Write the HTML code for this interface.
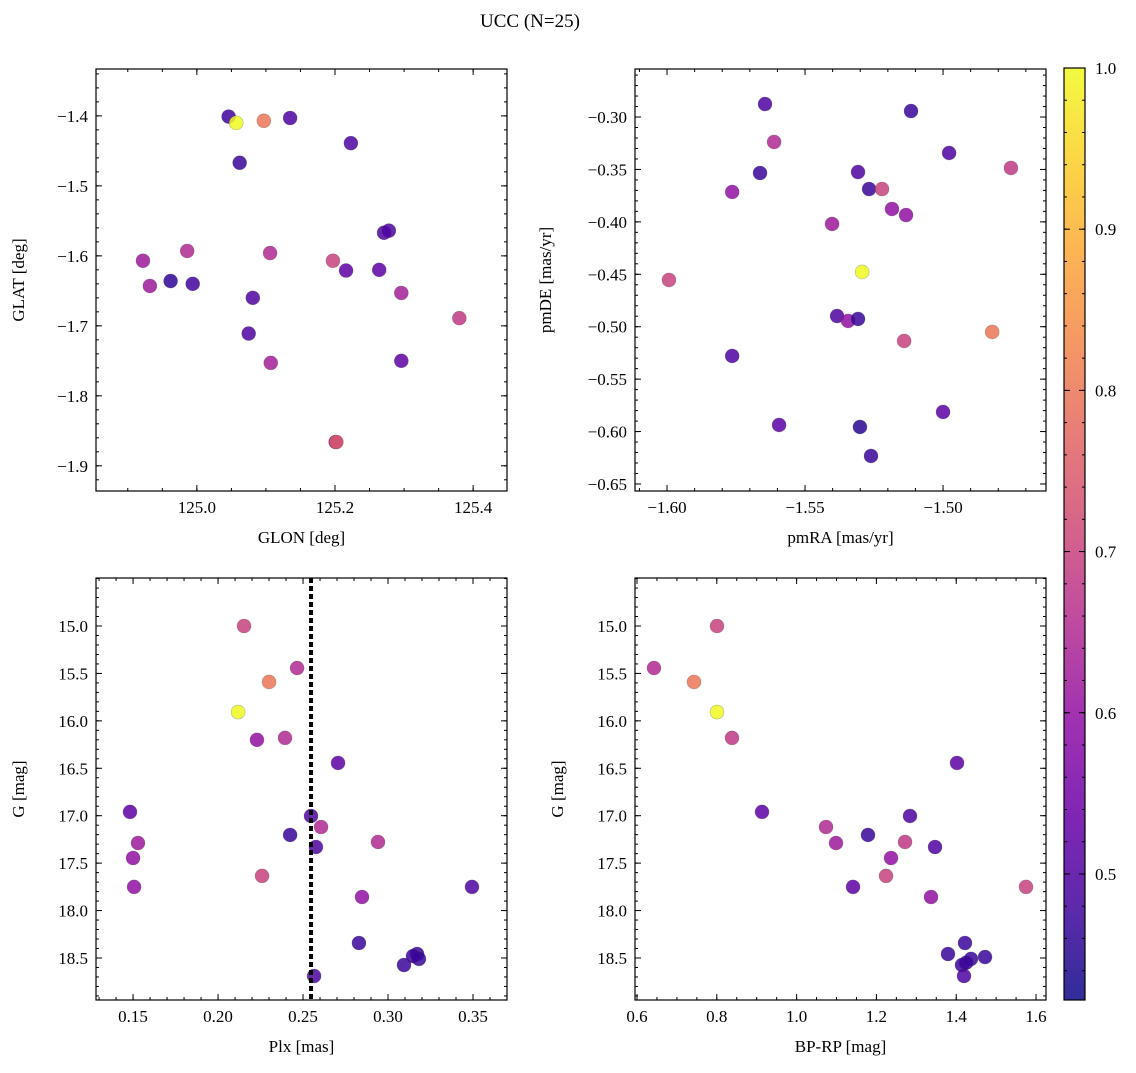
<!DOCTYPE html>
<html><head><meta charset="utf-8"><style>
body{margin:0;background:#fff;}
svg text{font-family:"Liberation Serif","DejaVu Serif",serif;fill:#000;}
</style></head><body>
<svg id="fig" width="1136" height="1068" viewBox="0 0 1136 1068" xmlns="http://www.w3.org/2000/svg">
<defs>
<linearGradient id="plasma" x1="0" y1="1" x2="0" y2="0">
<stop offset="0" stop-color="#0d0887"/><stop offset="0.1" stop-color="#41049d"/><stop offset="0.2" stop-color="#6a00a8"/><stop offset="0.3" stop-color="#8f0da4"/><stop offset="0.4" stop-color="#b12a90"/><stop offset="0.5" stop-color="#cc4778"/><stop offset="0.6" stop-color="#e16462"/><stop offset="0.7" stop-color="#f2844b"/><stop offset="0.8" stop-color="#fca636"/><stop offset="0.9" stop-color="#fcce25"/><stop offset="1" stop-color="#f0f921"/>
</linearGradient>
</defs>
<text x="530" y="27" text-anchor="middle" font-size="19">UCC (N=25)</text>
</svg>
<script>
// Panel 1 data
const glon = [125.046,125.057,125.097,125.135,125.062,125.223,125.271,125.278,124.922,124.932,124.962,124.986,124.994,125.106,125.197,125.216,125.264,125.296,125.380,125.081,125.075,125.107,125.296,125.201,125.202];
const glat = [-1.401,-1.410,-1.407,-1.403,-1.467,-1.439,-1.567,-1.564,-1.607,-1.643,-1.636,-1.593,-1.640,-1.596,-1.607,-1.621,-1.620,-1.653,-1.689,-1.660,-1.711,-1.753,-1.750,-1.866,-1.866];
const prob1 = [0.48,1.0,0.8,0.5,0.47,0.5,0.5,0.5,0.62,0.62,0.46,0.65,0.48,0.65,0.7,0.52,0.52,0.63,0.68,0.5,0.5,0.63,0.52,0.6,0.75];
// Panel 2 data
const pmra = [-1.5645,-1.5116,-1.4978,-1.4754,-1.5612,-1.5764,-1.5663,-1.5308,-1.5268,-1.5221,-1.5185,-1.5134,-1.5402,-1.5293,-1.5993,-1.5384,-1.5344,-1.5308,-1.5141,-1.4822,-1.5764,-1.5,-1.5594,-1.5301,-1.5261];
const pmde = [-0.2876,-0.2943,-0.3343,-0.3486,-0.3238,-0.3715,-0.3534,-0.3525,-0.3687,-0.3687,-0.3877,-0.3935,-0.4020,-0.4478,-0.4554,-0.4898,-0.4945,-0.4926,-0.5136,-0.5050,-0.5279,-0.5813,-0.5937,-0.5956,-0.6233];
const prob2 = [0.5,0.47,0.5,0.68,0.65,0.6,0.47,0.5,0.47,0.7,0.6,0.6,0.62,1.0,0.7,0.5,0.6,0.47,0.7,0.8,0.5,0.52,0.52,0.45,0.47];
// Panel 3 data
const plx = [0.2153,0.2465,0.2300,0.2118,0.2229,0.2394,0.2706,0.1482,0.1529,0.1500,0.1506,0.2424,0.2547,0.2606,0.2576,0.2941,0.2259,0.2847,0.3494,0.2829,0.3171,0.3094,0.3182,0.2565,0.3147];
const gmag3 = [15.0,15.443,15.59,15.907,16.2,16.18,16.444,16.96,17.288,17.446,17.751,17.203,17.003,17.119,17.33,17.277,17.635,17.857,17.751,18.342,18.458,18.574,18.51,18.69,18.48];
const prob3 = [0.7,0.65,0.8,1.0,0.6,0.65,0.52,0.52,0.62,0.6,0.6,0.47,0.5,0.65,0.5,0.65,0.7,0.6,0.5,0.47,0.47,0.47,0.47,0.5,0.47];
const plxLine = 0.2547;
// Panel 4 data
const bprp = [0.6426,0.8005,0.7429,0.8005,0.8381,1.402,0.9133,1.0737,1.0987,1.1789,1.2842,1.2717,1.3469,1.2366,1.2241,1.1414,1.3368,1.5749,1.422,1.3794,1.4371,1.4722,1.4145,1.4195,1.425];
const gmag4 = [15.443,15.0,15.59,15.907,16.18,16.444,16.96,17.119,17.288,17.203,17.003,17.277,17.33,17.446,17.635,17.751,17.857,17.751,18.342,18.458,18.51,18.49,18.574,18.69,18.55];
const prob4 = [0.65,0.7,0.8,1.0,0.68,0.52,0.52,0.65,0.62,0.47,0.5,0.68,0.5,0.6,0.7,0.52,0.6,0.7,0.47,0.47,0.47,0.47,0.47,0.5,0.47];
// Ticks
const ticks1x = [125.0,125.2,125.4], ticks1y = [-1.4,-1.5,-1.6,-1.7,-1.8,-1.9];
const ticks2x = [-1.60,-1.55,-1.50], ticks2y = [-0.30,-0.35,-0.40,-0.45,-0.50,-0.55,-0.60,-0.65];
const ticks3x = [0.15,0.20,0.25,0.30,0.35], ticksG = [15.0,15.5,16.0,16.5,17.0,17.5,18.0,18.5];
const ticks4x = [0.6,0.8,1.0,1.2,1.4,1.6];
const cbTicks = [0.5,0.6,0.7,0.8,0.9,1.0];

const NS="http://www.w3.org/2000/svg";
const svg=document.getElementById('fig');
function mk(tag,attrs,parent){const e=document.createElementNS(NS,tag);for(const k in attrs)e.setAttribute(k,attrs[k]);(parent||svg).appendChild(e);return e;}
const stops=['#0d0887','#41049d','#6a00a8','#8f0da4','#b12a90','#cc4778','#e16462','#f2844b','#fca636','#fcce25','#f0f921'];
function hex(h){return [1,3,5].map(i=>parseInt(h.substr(i,2),16));}
const CMIN=0.4218,CMAX=1.0;
function cmap(v){let t=(v-CMIN)/(CMAX-CMIN);t=Math.max(0,Math.min(1,t))*10;const i=Math.min(9,Math.floor(t));const f=t-i;const a=hex(stops[i]),b=hex(stops[i+1]);return 'rgb('+a.map((c,k)=>Math.round(c+(b[k]-c)*f)).join(',')+')';}
function fmt(v,d){return (v<0?'\u2212':'')+Math.abs(v).toFixed(d);}
const FS=17;

function panel(o){
  const g=mk('g',{});
  
  
  const X=v=>o.L+(v-o.x0)/(o.x1-o.x0)*(o.R-o.L);
  const Y=v=>o.T+(v-o.y0)/(o.y1-o.y0)*(o.B-o.T);
  for(let i=0;i<o.xs.length;i++){
    const c=mk('circle',{cx:X(o.xs[i]),cy:Y(o.ys[i]),r:7,fill:cmap(o.cs[i]),'fill-opacity':0.85,stroke:'rgba(60,60,60,0.35)','stroke-width':0.6},g);
    
    
  }
  if(o.vline!==undefined){
    const l=mk('line',{x1:X(o.vline),x2:X(o.vline),y1:o.T,y2:o.B,stroke:'#000','stroke-width':4,'stroke-dasharray':'5,3'},g);
    
    
  }
  const fr=mk('rect',{x:o.L,y:o.T,width:o.R-o.L,height:o.B-o.T,fill:'none',stroke:'#000','stroke-width':1.2},g);
  
  
  const lo=Math.min(o.x0,o.x1),hi=Math.max(o.x0,o.x1);
  for(let v=Math.ceil(lo/o.xm-1e-6)*o.xm;v<=hi+1e-9;v+=o.xm){const x=X(v);mk('line',{x1:x,x2:x,y1:o.B,y2:o.B-3,stroke:'#000'},g);mk('line',{x1:x,x2:x,y1:o.T,y2:o.T+3,stroke:'#000'},g);}
  o.xt.forEach(v=>{const x=X(v);mk('line',{x1:x,x2:x,y1:o.B,y2:o.B-6,stroke:'#000'},g);mk('line',{x1:x,x2:x,y1:o.T,y2:o.T+6,stroke:'#000'},g);
    const t=mk('text',{x:x,y:o.B+22,'text-anchor':'middle','font-size':FS},g);t.textContent=fmt(v,o.xd);
    });
  const ylo=Math.min(o.y0,o.y1),yhi=Math.max(o.y0,o.y1);
  for(let v=Math.ceil(ylo/o.ym-1e-6)*o.ym;v<=yhi+1e-9;v+=o.ym){const y=Y(v);mk('line',{x1:o.L,x2:o.L+3,y1:y,y2:y,stroke:'#000'},g);mk('line',{x1:o.R,x2:o.R-3,y1:y,y2:y,stroke:'#000'},g);}
  o.yt.forEach(v=>{const y=Y(v);mk('line',{x1:o.L,x2:o.L+6,y1:y,y2:y,stroke:'#000'},g);mk('line',{x1:o.R,x2:o.R-6,y1:y,y2:y,stroke:'#000'},g);
    const t=mk('text',{x:o.L-8,y:y+6,'text-anchor':'end','font-size':FS},g);t.textContent=fmt(v,o.yd);
    });
  const xl=mk('text',{x:(o.L+o.R)/2,y:o.B+52,'text-anchor':'middle','font-size':FS},g);xl.textContent=o.xlab;
  
  const yx=o.L-o.ylOff,yy=(o.T+o.B)/2;
  const yl=mk('text',{x:yx,y:yy,'text-anchor':'middle','font-size':FS,transform:'rotate(-90 '+yx+' '+yy+')'},g);yl.textContent=o.ylab;
  
}
panel({name:'glon-glat-panel',L:96,R:507,T:69,B:491,x0:124.854,x1:125.449,y0:-1.333,y1:-1.936,xs:glon,ys:glat,cs:prob1,xt:ticks1x,yt:ticks1y,xm:0.05,ym:0.02,xd:1,yd:1,xlab:'GLON [deg]',ylab:'GLAT [deg]',ylOff:72});
panel({name:'proper-motion-panel',L:635,R:1046,T:69,B:491,x0:-1.6116,x1:-1.4627,y0:-0.2542,y1:-0.6567,xs:pmra,ys:pmde,cs:prob2,xt:ticks2x,yt:ticks2y,xm:0.01,ym:0.01,xd:2,yd:2,xlab:'pmRA [mas/yr]',ylab:'pmDE [mas/yr]',ylOff:84});
panel({name:'plx-g-panel',L:96,R:507,T:578,B:1000,x0:0.1282,x1:0.370,y0:14.494,y1:18.943,xs:plx,ys:gmag3,cs:prob3,xt:ticks3x,yt:ticksG,xm:0.01,ym:0.1,xd:2,yd:1,xlab:'Plx [mas]',ylab:'G [mag]',ylOff:72,vline:plxLine});
panel({name:'cmd-panel',L:635,R:1046,T:578,B:1000,x0:0.595,x1:1.625,y0:14.494,y1:18.943,xs:bprp,ys:gmag4,cs:prob4,xt:ticks4x,yt:ticksG,xm:0.05,ym:0.1,xd:1,yd:1,xlab:'BP-RP [mag]',ylab:'G [mag]',ylOff:72});
const cb=mk('g',{});


const CT=68,CB=1000,CL=1064,CR=1085;
mk('rect',{x:CL,y:CT,width:CR-CL,height:CB-CT,fill:'url(#plasma)','fill-opacity':0.85},cb);
mk('rect',{x:CL,y:CT,width:CR-CL,height:CB-CT,fill:'none',stroke:'#000','stroke-width':1.2},cb);
const CY=v=>CB-(v-CMIN)/(CMAX-CMIN)*(CB-CT);
for(let v=0.44;v<=1.0001;v+=0.02){const y=CY(v);mk('line',{x1:CR,x2:CR-3,y1:y,y2:y,stroke:'#000'},cb);mk('line',{x1:CL,x2:CL+3,y1:y,y2:y,stroke:'#000'},cb);}
cbTicks.forEach(v=>{const y=CY(v);mk('line',{x1:CR,x2:CR-6,y1:y,y2:y,stroke:'#000'},cb);mk('line',{x1:CL,x2:CL+6,y1:y,y2:y,stroke:'#000'},cb);
  const t=mk('text',{x:CR+10,y:y+6,'font-size':FS},cb);t.textContent=v.toFixed(1);
  });
</script>
</body></html>
